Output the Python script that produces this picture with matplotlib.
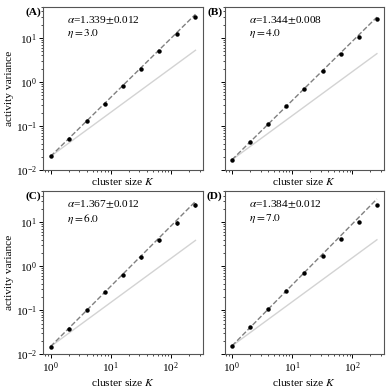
import numpy as np
import matplotlib
matplotlib.use('Agg')
import matplotlib.pyplot as plt

# 폰트 설정 (Times 계열)
plt.rcParams['font.family'] = ['Liberation Serif', 'DejaVu Serif']
plt.rcParams['mathtext.fontset'] = 'stix'
plt.rcParams['font.size'] = 8.2

# 데이터: 클러스터 크기 K 와 활동 분산
K = [1, 2, 4, 8, 16, 32, 64, 128, 256]
panels = ['(A)', '(B)', '(C)', '(D)']
alphas = [1.339, 1.344, 1.367, 1.384]
alpha_err = [0.012, 0.008, 0.012, 0.012]
etas = [3.0, 4.0, 6.0, 7.0]
var_A = [0.0204, 0.0507, 0.127, 0.321, 0.79, 1.97, 4.9, 12.0, 30.4]
var_B = [0.0171, 0.044, 0.111, 0.279, 0.69, 1.74, 4.37, 10.7, 27.0]
var_C = [0.0150, 0.0385, 0.099, 0.257, 0.63, 1.58, 3.9, 9.5, 24.0]
var_D = [0.0155, 0.041, 0.107, 0.275, 0.71, 1.66, 4.1, 9.8, 24.5]
err_A = [0, 0, 0, 0, 0, 0, 0.1, 0.3, 1.0]
err_B = [0, 0, 0, 0, 0, 0, 0.1, 0.3, 1.0]
err_C = [0, 0, 0, 0, 0, 0.1, 0.3, 0.9, 2.5]
err_D = [0, 0, 0, 0, 0, 0.05, 0.2, 0.5, 1.5]
variances = [var_A, var_B, var_C, var_D]
errors = [err_A, err_B, err_C, err_D]

fig, axes = plt.subplots(2, 2, figsize=(3.9, 3.9), dpi=100, sharex=True, sharey=True)
fig.subplots_adjust(left=0.111, right=0.985, top=0.982, bottom=0.0915, wspace=0.138, hspace=0.13)

k = np.array(K, dtype=float)
for i, ax in enumerate(axes.flat):
    v = np.array(variances[i])
    # 기울기 1 기준선 (연한 회색)
    ax.plot(k, v[0] * k, color='#d3d3d3', lw=1.0, zorder=1)
    # 멱법칙 피팅 (회색 점선)
    ax.plot(k, v[0] * k ** alphas[i], color='gray', ls='--', lw=1.0, zorder=2)
    ax.errorbar(k, v, yerr=errors[i], fmt='o', color='black', ms=2.2, elinewidth=0.8, capsize=0, zorder=3)
    ax.set_xscale('log')
    ax.set_yscale('log')
    ax.set_ylim(1e-2, 50)
    ax.text(0.15, 0.955, r'$\alpha$=%.3f$\pm$%.3f' % (alphas[i], alpha_err[i]), transform=ax.transAxes, va='top', ha='left')
    ax.text(0.15, 0.875, r'$\eta=%.1f$' % etas[i], transform=ax.transAxes, va='top', ha='left')
    ax.text(-0.015, 1.0, panels[i], transform=ax.transAxes, va='top', ha='right', fontweight='bold')
    ax.set_xlabel('cluster size $K$', labelpad=1)
    ax.tick_params(which='major', length=3, width=0.7, pad=1.5, labelsize=8.2)
    ax.tick_params(which='minor', length=1.6, width=0.5)
    for s in ax.spines.values():
        s.set_color('#555555')
        s.set_linewidth(0.8)

axes[0, 0].set_ylabel('activity variance', labelpad=1)
axes[1, 0].set_ylabel('activity variance', labelpad=1)

plt.savefig('out.png', dpi=100)
